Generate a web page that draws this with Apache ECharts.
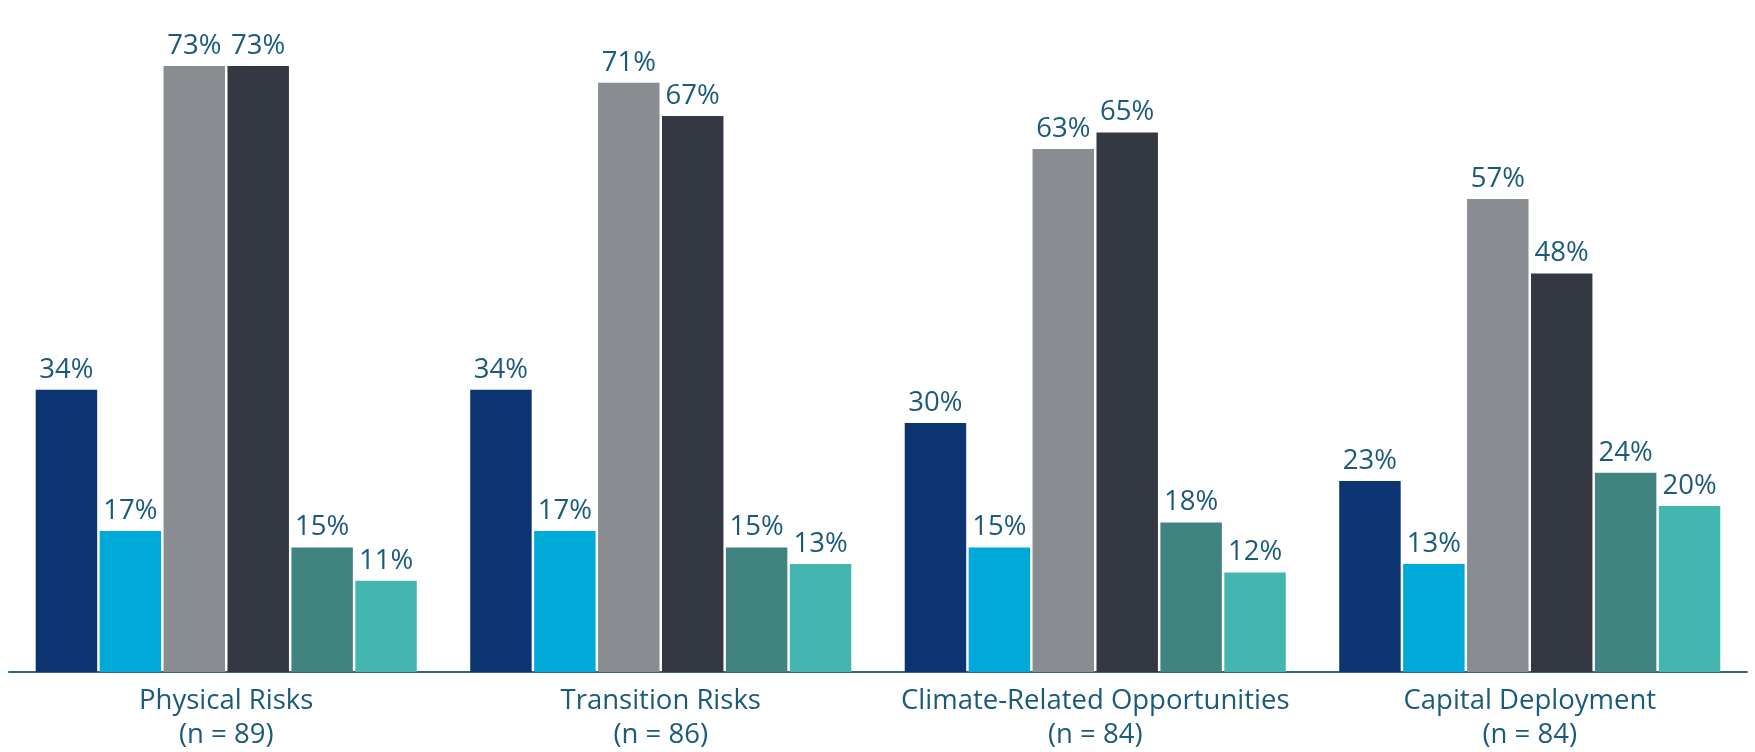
<!DOCTYPE html>
<html>
<head>
<meta charset="utf-8">
<script src="https://cdn.jsdelivr.net/npm/echarts@6/dist/echarts.min.js"></script>
<style>
  html, body { margin: 0; padding: 0; background: #ffffff; }
  #chart { width: 1755px; height: 752px; }
</style>
</head>
<body>
<div id="chart"></div>
<script>
// Categories shown along the x axis
const categories = [
  'Physical Risks\n(n = 89)',
  'Transition Risks\n(n = 86)',
  'Climate-Related Opportunities\n(n = 84)',
  'Capital Deployment\n(n = 84)'
];

// Percentage values, one array per bar within each group
const seriesA = [34, 34, 30, 23];
const seriesB = [17, 17, 15, 13];
const seriesC = [73, 71, 63, 57];
const seriesD = [73, 67, 65, 48];
const seriesE = [15, 15, 18, 24];
const seriesF = [11, 13, 12, 20];

const barColors = ['#0b3470', '#00aad8', '#898c90', '#343842', '#418380', '#43b6b0'];
const textColor = '#1b5a7a';
const fontFamily = '"Open Sans", "Noto Sans", sans-serif';

const allSeries = [seriesA, seriesB, seriesC, seriesD, seriesE, seriesF];

const chart = echarts.init(document.getElementById('chart'), null, { renderer: 'canvas' });

chart.setOption({
  animation: false,
  backgroundColor: '#ffffff',
  grid: { left: 9, right: 8, top: 8, bottom: 76, containLabel: false },
  xAxis: {
    type: 'category',
    data: categories,
    axisLine: { show: true, lineStyle: { color: '#2c6a88', width: 2 } },
    axisTick: { show: false },
    axisLabel: {
      color: textColor,
      fontFamily: fontFamily,
      fontSize: 27.5,
      lineHeight: 34,
      margin: 12,
      interval: 0
    }
  },
  yAxis: {
    type: 'value',
    min: 0,
    max: 80,
    show: false,
    splitLine: { show: false }
  },
  series: allSeries.map((values, i) => ({
    type: 'bar',
    data: values,
    barGap: '4%',
    barCategoryGap: '12.3%',
    itemStyle: { color: barColors[i] },
    label: {
      show: true,
      position: 'top',
      distance: 6,
      color: textColor,
      fontFamily: fontFamily,
      fontSize: 27.5,
      formatter: p => p.value + '%'
    }
  }))
});
</script>
</body>
</html>
